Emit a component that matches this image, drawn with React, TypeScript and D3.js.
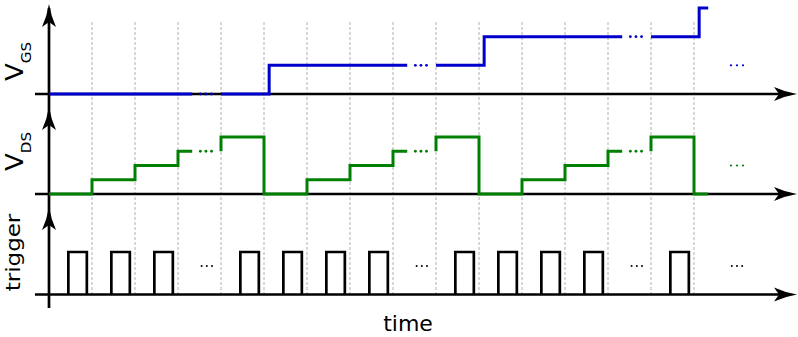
import React from "react";
import * as d3 from "d3";

// levels per clock period (one period = one gridline step)
const vgsLevels = [0, 0, 0, 0, 0, 1, 1, 1, 1, 1, 2, 2, 2, 2, 2, 3];
const vdsLevels = [0, 1, 2, 3, 4, 0, 1, 2, 3, 4, 0, 1, 2, 3, 4, 0];
const triggerPulses = [1, 1, 1, 0, 1, 1, 1, 1, 0, 1, 1, 1, 1, 0, 1, 0];
const skippedPeriods = [3, 8, 13];
const traceEnd = 15.33;
const gapStart = 0.33;
const vgsDelay = 0.12;
const pulseOn = 0.45;
const pulseOff = 0.88;
const dotOffsets = [0.52, 0.65, 0.78];
const tailDots = [15.86, 16, 16.14];

const W = 798;
const H = 337;
const axisX = 49;

const x = d3.scaleLinear().domain([0, 16]).range([axisX, axisX + 43 * 16]);
const yGS = d3.scaleLinear().domain([0, 3]).range([94, 8]);
const yDS = d3.scaleLinear().domain([0, 4]).range([194, 137]);
const yTr = d3.scaleLinear().domain([0, 1]).range([294.5, 252]);

type Pt = [number, number];

function segments(levels: number[], delay: number): Pt[][] {
  const segs: Pt[][] = [];
  let cur: Pt[] = [];
  levels.forEach((lv, k) => {
    cur.push([k === 0 ? 0 : k + delay, lv]);
    if (skippedPeriods.includes(k)) {
      cur.push([k + gapStart, lv]);
      segs.push(cur);
      cur = [[k + 1, lv]];
    }
  });
  cur.push([traceEnd, levels[levels.length - 1]]);
  segs.push(cur);
  return segs;
}

const upArrow = (cx: number, tip: number) =>
  `M${cx},${tip} Q${cx - 2},${tip + 12} ${cx - 7},${tip + 23} L${cx},${tip + 18} L${cx + 7},${tip + 23} Q${cx + 2},${tip + 12} ${cx},${tip} Z`;
const rightArrow = (tip: number, cy: number) =>
  `M${tip},${cy} Q${tip - 12},${cy - 2} ${tip - 23},${cy - 7} L${tip - 18},${cy} L${tip - 23},${cy + 7} Q${tip - 12},${cy + 2} ${tip},${cy} Z`;

const font = "DejaVu Sans, sans-serif";

export default function App() {
  const lineFor = (y: d3.ScaleLinear<number, number>) =>
    d3
      .line<Pt>()
      .x((d) => x(d[0]))
      .y((d) => y(d[1]))
      .curve(d3.curveStepAfter);

  const gsLine = lineFor(yGS);
  const dsLine = lineFor(yDS);
  const grid = d3.range(1, vgsLevels.length);
  const baselines = [yGS(0), yDS(0), yTr(0)];
  const arrowTips = [4, 107, 207];

  return (
    <svg
      width={W}
      height={H}
      style={{ position: "absolute", left: 0, top: 0, background: "#fff" }}
    >
      {/* gridlines */}
      {grid.map((g) => (
        <line
          key={g}
          x1={x(g)}
          x2={x(g)}
          y1={22}
          y2={294}
          stroke="#b0b0b0"
          strokeWidth={1}
          strokeDasharray="3,2"
        />
      ))}

      {/* axes */}
      <line x1={axisX} x2={axisX} y1={8} y2={308} stroke="#000" strokeWidth={2.7} />
      {arrowTips.map((t) => (
        <path key={t} d={upArrow(axisX, t)} fill="#000" />
      ))}
      {baselines.map((b) => (
        <g key={b}>
          <line x1={35} x2={785} y1={b} y2={b} stroke="#000" strokeWidth={2.7} />
          <path d={rightArrow(797, b)} fill="#000" />
        </g>
      ))}

      {/* V_GS */}
      {segments(vgsLevels, vgsDelay).map((s, i) => (
        <path key={i} d={gsLine(s) ?? ""} fill="none" stroke="#0000cc" strokeWidth={3} />
      ))}
      {skippedPeriods.map((k) =>
        dotOffsets.map((o) => (
          <circle key={`gs${k}${o}`} cx={x(k + o)} cy={yGS(vgsLevels[k])} r={1.4} fill="#0000cc" />
        ))
      )}
      {tailDots.map((t) => (
        <circle key={`gst${t}`} cx={x(t)} cy={yGS(1)} r={1.1} fill="#0000cc" />
      ))}

      {/* V_DS */}
      {segments(vdsLevels, 0).map((s, i) => (
        <path key={i} d={dsLine(s) ?? ""} fill="none" stroke="#008000" strokeWidth={3} />
      ))}
      {skippedPeriods.map((k) =>
        dotOffsets.map((o) => (
          <circle key={`ds${k}${o}`} cx={x(k + o)} cy={yDS(vdsLevels[k])} r={1.4} fill="#008000" />
        ))
      )}
      {tailDots.map((t) => (
        <circle key={`dst${t}`} cx={x(t)} cy={yDS(2)} r={1.1} fill="#008000" />
      ))}

      {/* trigger */}
      {triggerPulses.map((p, k) =>
        p ? (
          <path
            key={`p${k}`}
            d={`M${x(k + pulseOn)},${yTr(0)}V${yTr(1)}H${x(k + pulseOff)}V${yTr(0)}`}
            fill="none"
            stroke="#000"
            strokeWidth={2.7}
          />
        ) : null
      )}
      {triggerPulses.map((p, k) =>
        p
          ? null
          : [-0.12, 0, 0.12].map((o) => (
              <circle
                key={`td${k}${o}`}
                cx={x(k < 15 ? k + 0.67 + o : 16 + o)}
                cy={yTr(0.67)}
                r={1}
                fill="#000"
              />
            ))
      )}

      {/* labels */}
      <text
        transform={`translate(23,61.5) scale(0.92,1) rotate(-90)`}
        textAnchor="middle"
        fontFamily={font}
        fontSize={26}
      >
        V<tspan fontSize={15} dy={9}>GS</tspan>
      </text>
      <text
        transform={`translate(23,151.5) scale(0.92,1) rotate(-90)`}
        textAnchor="middle"
        fontFamily={font}
        fontSize={26}
      >
        V<tspan fontSize={15} dy={9}>DS</tspan>
      </text>
      <text
        transform={`translate(20,252.5) scale(0.88,1) rotate(-90)`}
        textAnchor="middle"
        fontFamily={font}
        fontSize={23}
      >
        trigger
      </text>
      <text x={408} y={331} textAnchor="middle" fontFamily={font} fontSize={22}>
        time
      </text>
    </svg>
  );
}
